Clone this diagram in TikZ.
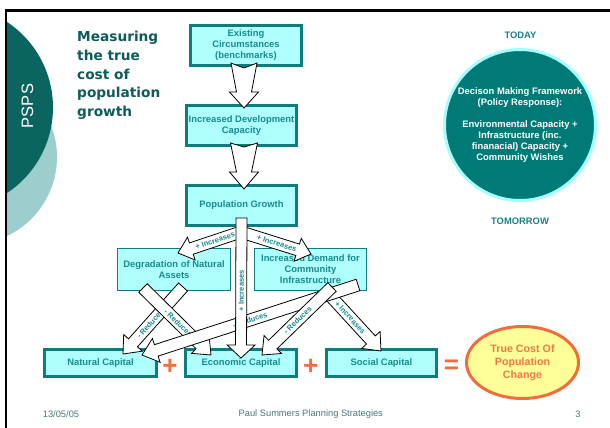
\documentclass[tikz,border=0pt]{standalone}
\usepackage{fontspec}
\setmainfont{Liberation Sans}
\newfontfamily\titlefont{DejaVu Sans}
\usetikzlibrary{calc,shapes.geometric}
\definecolor{boxfill}{RGB}{175,255,255}
\definecolor{boxline}{RGB}{16,124,124}
\definecolor{boxtext}{RGB}{22,140,140}
\definecolor{titlecol}{RGB}{12,92,90}
\definecolor{darkteal}{RGB}{10,100,96}
\definecolor{lightteal}{RGB}{156,206,206}
\definecolor{circfill}{RGB}{0,122,118}
\definecolor{circline}{RGB}{166,255,255}
\definecolor{todaycol}{RGB}{30,128,128}
\definecolor{orng}{RGB}{240,110,60}
\definecolor{orngtext}{RGB}{240,120,70}
\definecolor{yellowfill}{RGB}{255,255,153}
\definecolor{foot}{RGB}{70,120,120}
\pgfdeclarelayer{under}
\pgfsetlayers{under,main}
\tikzset{
  box/.style={draw=boxline, line width=3pt, fill=boxfill, text=boxtext,
    font=\fontsize{9.4}{11}\selectfont\bfseries, align=center, inner sep=0pt},
  thinbox/.style={box, line width=1.5pt},
  barrow/.style n args={5}{to path={
    ($(\tikztostart)!#1!90:(\tikztotarget)$)
    -- ($(\tikztotarget)!#4!(\tikztostart)!#2!90:(\tikztotarget)$)
    -- ($(\tikztotarget)!#4!(\tikztostart)!#3!90:(\tikztotarget)$)
    -- (\tikztotarget)
    -- ($(\tikztotarget)!#4!(\tikztostart)!#3!-90:(\tikztotarget)$)
    -- ($(\tikztotarget)!#4!(\tikztostart)!#2!-90:(\tikztotarget)$)
    -- ($(\tikztostart)!#1!-90:(\tikztotarget)$)
    -- ($(\tikztostart)!#5!(\tikztotarget)$)
    -- cycle}},
  blk/.style={draw=black, line width=0.8pt, fill=white, line join=miter},
  lowarr/.style={barrow={6pt}{6pt}{12.5pt}{15pt}{0pt}},
  lbl/.style={text=boxtext, font=\fontsize{7.5}{8}\selectfont\bfseries, inner sep=0pt},
  sign/.style={text=orng, font=\fontsize{26}{26}\selectfont\bfseries, inner sep=0pt},
  footer/.style={text=foot, font=\fontsize{9.3}{11}\selectfont, inner sep=0pt},
}
\begin{document}
\begin{tikzpicture}[x=1pt,y=-1pt]
\useasboundingbox (0,0) rectangle (610,428);
% left decorative circles
\begin{scope}
\clip (7,11) rectangle (200,428);
\fill[lightteal] (-30.4,157) circle[radius=87.4pt];
\fill[darkteal] (-49.5,107.5) circle[radius=102.5pt];
\end{scope}
\draw[line width=2.3pt] (6.2,428) -- (6.2,10.5) -- (610,10.5);
\node[rotate=90, text=white, font=\fontsize{16.5}{18}\selectfont, inner sep=0pt] (psps) at (27.5,106) {PSPS};
\node[anchor=north west, inner sep=0pt, align=left, text=titlecol,
  font=\titlefont\fontsize{13.7}{18.7}\selectfont\bfseries] (title) at (77,31)
  {Measuring\\the true\\cost of\\population\\growth};

% decision circle
\node[text=todaycol, font=\fontsize{9.4}{11}\selectfont\bfseries, inner sep=0pt] (today) at (520.5,35) {TODAY};
\node[circle, draw=circline, line width=3pt, fill=circfill, minimum size=151pt, inner sep=0pt,
  text=white, align=center, font=\fontsize{9.4}{11}\selectfont\bfseries] (dmf) at (520,125)
  {Decison Making Framework\\(Policy Response):\\[11pt]Environmental Capacity +\\Infrastructure (inc.\\finanacial) Capacity +\\Community Wishes};
\node[text=todaycol, font=\fontsize{9.4}{11}\selectfont\bfseries, inner sep=0pt] (tomorrow) at (520,221) {TOMORROW};

% upper chain
\node[box, minimum width=111pt, minimum height=40pt] (ex) at (246,45.5) {Existing\\Circumstances\\(benchmarks)};
\node[box, minimum width=110pt, minimum height=40pt] (inc) at (241.5,125.5) {Increased Development\\Capacity};
\node[box, minimum width=110pt, minimum height=40pt] (pop) at (241.5,205.5) {Population Growth};

\begin{pgfonlayer}{under}
\node[thinbox, minimum width=113pt, minimum height=42pt] (deg) at (174,269.5) {Degradation of Natural\\Assets};
\node[thinbox, minimum width=112pt, minimum height=42pt] (dem) at (310.5,269.5) {Increased Demand for\\Community\\Infrastructure};
\coordinate (a3s) at (241,232);
\coordinate (a3e) at (178,253);
\coordinate (a4e) at (311,254);
\draw[blk] (a3s) to[barrow={6pt}{6pt}{12pt}{14pt}{0pt}] (a3e);
\path (a3s) -- (a3e) node[lbl, sloped, pos=.41] {+ Increases};
\draw[blk] (a3s) to[barrow={6pt}{6pt}{12pt}{14pt}{0pt}] (a4e);
\path (a3s) -- (a4e) node[lbl, sloped, pos=.51] {+ Increases};
\end{pgfonlayer}

% capitals
\node[box, minimum width=112pt, minimum height=27pt] (nat) at (100.5,363) {Natural Capital};
\node[box, minimum width=111pt, minimum height=27pt] (eco) at (241,363) {Economic Capital};
\node[box, minimum width=110pt, minimum height=27pt] (soc) at (381.5,363) {Social Capital};
\node[sign] (p1) at (170,366.5) {+};
\node[sign] (p2) at (310.7,366.5) {+};
\node[sign] (eq) at (451.5,367) {=};
\node[ellipse, draw=orng, line width=3pt, fill=yellowfill, minimum width=112pt, minimum height=72pt,
  inner sep=0pt, align=center, text=orngtext, font=\fontsize{10.7}{13}\selectfont\bfseries] (tc) at (522.5,362.5)
  {True Cost Of\\Population\\Change};

% big arrows of the chain
\coordinate (a1s) at (244,63);
\coordinate (a1e) at (244,108);
\coordinate (a2s) at (244,143);
\coordinate (a2e) at (244,189);
\draw[blk] (a1s) to[barrow={13pt}{7.5pt}{14.5pt}{16pt}{5pt}] (a1e);
\draw[blk] (a2s) to[barrow={13.5pt}{7.5pt}{14.5pt}{17pt}{4pt}] (a2e);

% lower arrows
\coordinate (a6s) at (183,287);
\coordinate (a6e) at (123,354);
\coordinate (a7s) at (143,288);
\coordinate (a7e) at (211,355);
\coordinate (a8s) at (332,287);
\coordinate (a8e) at (262,355);
\coordinate (a9s) at (325,290);
\coordinate (a9e) at (381,351);
\coordinate (a10s) at (358,285);
\coordinate (a10e) at (142,355);
\coordinate (a5s) at (241.5,218);
\coordinate (a5e) at (241,358);

\draw[blk] (a9s) to[lowarr] (a9e);
\path (a9s) -- (a9e) node[lbl, sloped, pos=.45] {+ Increases};
\draw[blk] (a6s) to[lowarr] (a6e);
\path (a6s) -- (a6e) node[lbl, sloped, pos=.55] {- Reduces};
\draw[blk] (a7s) to[lowarr] (a7e);
\path (a7s) -- (a7e) node[lbl, sloped, pos=.52] {- Reduces};
\draw[blk] (a10s) to[lowarr] (a10e);
\path (a10s) -- (a10e) node[lbl, sloped, pos=.5] {- Reduces};
\draw[blk] (a8s) to[lowarr] (a8e);
\path (a8s) -- (a8e) node[lbl, sloped, pos=.49] {- Reduces};
\draw[blk] (a5s) to[barrow={5.5pt}{5.5pt}{14pt}{13pt}{0pt}] (a5e);
\path (a5s) -- (a5e) node[lbl, rotate=90, pos=.52] {+ Increases};

% footer
\node[footer] (date) at (61,414) {13/05/05};
\node[footer] (author) at (310.8,414) {Paul Summers Planning Strategies};
\node[footer] (page) at (578,414) {3};
\end{tikzpicture}
\end{document}
